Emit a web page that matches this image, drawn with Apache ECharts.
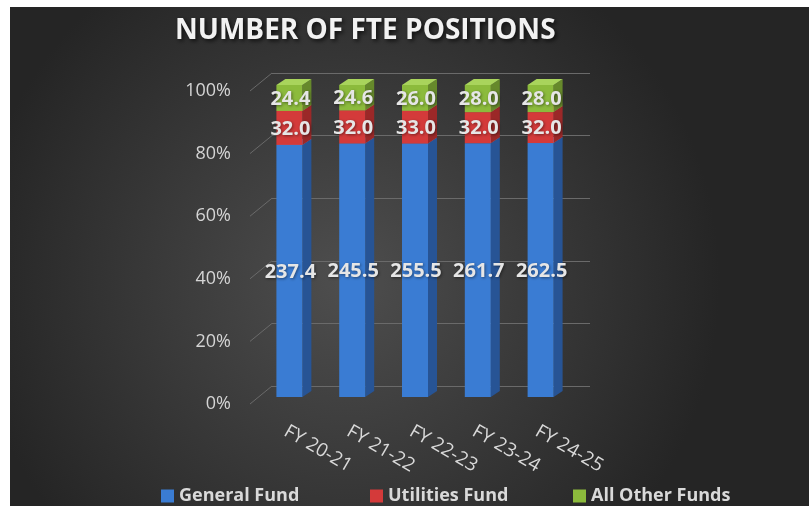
<!DOCTYPE html>
<html><head><meta charset="utf-8">
<script src="https://cdn.jsdelivr.net/npm/echarts@6/dist/echarts.min.js"></script>
<style>html,body{margin:0;padding:0;background:#fff;} #c{width:809px;height:506px;}</style>
</head><body><div id="c"></div>
<script>
var categories = ['FY 20-21', 'FY 21-22', 'FY 22-23', 'FY 23-24', 'FY 24-25'];
var generalFund = [237.4, 245.5, 255.5, 261.7, 262.5];
var utilitiesFund = [32.0, 32.0, 33.0, 32.0, 32.0];
var otherFunds = [24.4, 24.6, 26.0, 28.0, 28.0];
var seriesNames = ['General Fund', 'Utilities Fund', 'All Other Funds'];
var yTicks = [0, 20, 40, 60, 80, 100];

var fundArrays = [generalFund, utilitiesFund, otherFunds];
var palettes = [
  {front: '#3a7cd3', side: '#275495', top: '#5a95e0'},
  {front: '#d43a3a', side: '#9b2828', top: '#e26060'},
  {front: '#8cbb3c', side: '#66892b', top: '#a9d45c'}
];
var totals = categories.map(function (c, i) {
  return fundArrays.reduce(function (s, a) { return s + a[i]; }, 0);
});
function stackData(k) {
  return categories.map(function (c, i) {
    var start = 0;
    for (var j = 0; j < k; j++) start += fundArrays[j][i];
    var end = start + fundArrays[k][i];
    return [i, start / totals[i] * 100, end / totals[i] * 100, fundArrays[k][i]];
  });
}
function makeRender(pal) {
  return function (params, api) {
    var x = api.value(0);
    var p0 = api.coord([x, api.value(1)]);
    var p1 = api.coord([x, api.value(2)]);
    var bw = 26, d = 9, dy = 6;
    var xl = p0[0] - bw / 2, xr = p0[0] + bw / 2;
    var yb = p0[1], yt = p1[1];
    return {
      type: 'group',
      children: [
        {type: 'polygon', shape: {points: [[xr, yb], [xr + d, yb - dy], [xr + d, yt - dy], [xr, yt]]}, style: {fill: pal.side}},
        {type: 'polygon', shape: {points: [[xl, yt], [xl + d, yt - dy], [xr + d, yt - dy], [xr, yt]]}, style: {fill: pal.top}},
        {type: 'rect', shape: {x: xl, y: yt, width: bw, height: yb - yt}, style: {fill: pal.front}},
        {type: 'text', z2: 100, style: {
          text: api.value(3).toFixed(1), x: p0[0] + 1, y: (yb + yt) / 2 + 1,
          align: 'center', verticalAlign: 'middle',
          fill: '#e6e6e6', font: 'bold 20px "Open Sans"',
          textShadowColor: 'rgba(0,0,0,0.45)', textShadowBlur: 3, textShadowOffsetX: 1, textShadowOffsetY: 1
        }}
      ]
    };
  };
}

var chart = echarts.init(document.getElementById('c'));
var legendLefts = [156, 365, 568];
var option = {
  animation: false,
  backgroundColor: 'transparent',
  title: {
    text: 'NUMBER OF FTE POSITIONS', left: 170, top: 12,
    textStyle: {
      color: '#f2f2f2', fontSize: 28, fontWeight: 'bold', fontFamily: 'Open Sans',
      textShadowColor: 'rgba(0,0,0,0.7)', textShadowBlur: 4, textShadowOffsetX: 2, textShadowOffsetY: 2
    }
  },
  legend: seriesNames.map(function (n, k) {
    return {
      data: [n], left: legendLefts[k], top: 482, itemWidth: 13, itemHeight: 13, icon: 'rect',
      textStyle: {color: '#d9d9d9', fontSize: 18, fontWeight: 'bold', fontFamily: 'Open Sans'}
    };
  }),
  grid: [
    {left: 272, top: 73, width: 318, height: 313},
    {left: 250, top: 91, width: 10, height: 313},
    {left: 258, top: 85, width: 314, height: 312},
    {left: 254, top: 85, width: 314, height: 335}
  ],
  xAxis: [
    {gridIndex: 0, type: 'category', data: categories, show: false},
    {gridIndex: 1, type: 'category', data: categories, show: false},
    {gridIndex: 2, type: 'category', data: categories, show: false},
    {gridIndex: 3, type: 'category', data: categories,
      axisLine: {show: false}, axisTick: {show: false},
      axisLabel: {rotate: -30, margin: 10, color: '#d9d9d9', fontSize: 19, fontFamily: 'Open Sans', interval: 0}}
  ],
  yAxis: [
    {gridIndex: 0, type: 'value', min: 0, max: 100, interval: 20,
      axisLine: {show: false}, axisTick: {show: false}, axisLabel: {show: false},
      splitLine: {show: true, lineStyle: {color: '#6a6a6a', width: 1}}},
    {gridIndex: 1, type: 'value', min: 0, max: 100, interval: 20,
      axisLine: {show: false}, axisTick: {show: false}, splitLine: {show: false},
      axisLabel: {formatter: '{value}%', margin: 19, color: '#d4d4d4', fontSize: 18, fontFamily: 'Open Sans'}},
    {gridIndex: 2, type: 'value', min: 0, max: 100, show: false},
    {gridIndex: 3, type: 'value', min: 0, max: 100, show: false}
  ],
  graphic: [{
    type: 'rect', z: -100, silent: true,
    shape: {x: 10, y: 7, width: 799, height: 499},
    style: {fill: new echarts.graphic.RadialGradient(0.42, 0.55, 0.75, [
      {offset: 0, color: '#4e4e4e'}, {offset: 1, color: '#252525'}])}
  }],
  series: seriesNames.map(function (n, k) {
    return {
      name: n, type: 'custom', xAxisIndex: 2, yAxisIndex: 2,
      itemStyle: {color: palettes[k].front},
      encode: {x: 0, y: [1, 2]},
      renderItem: makeRender(palettes[k]),
      data: stackData(k)
    };
  })
};
chart.setOption(option);

// perspective slants of the gridlines, from the label axis to the back wall
var slants = yTicks.map(function (v, i) {
  var yFront = chart.convertToPixel({yAxisIndex: 1}, v);
  var yBack = chart.convertToPixel({yAxisIndex: 0}, v);
  return {
    type: 'line', id: 'slant' + i, silent: true, z: 1,
    shape: {x1: 250, y1: yFront, x2: 272, y2: yBack},
    style: {stroke: '#6a6a6a', lineWidth: 1}
  };
});
chart.setOption({graphic: option.graphic.concat(slants)}, {replaceMerge: ['graphic']});
</script></body></html>
